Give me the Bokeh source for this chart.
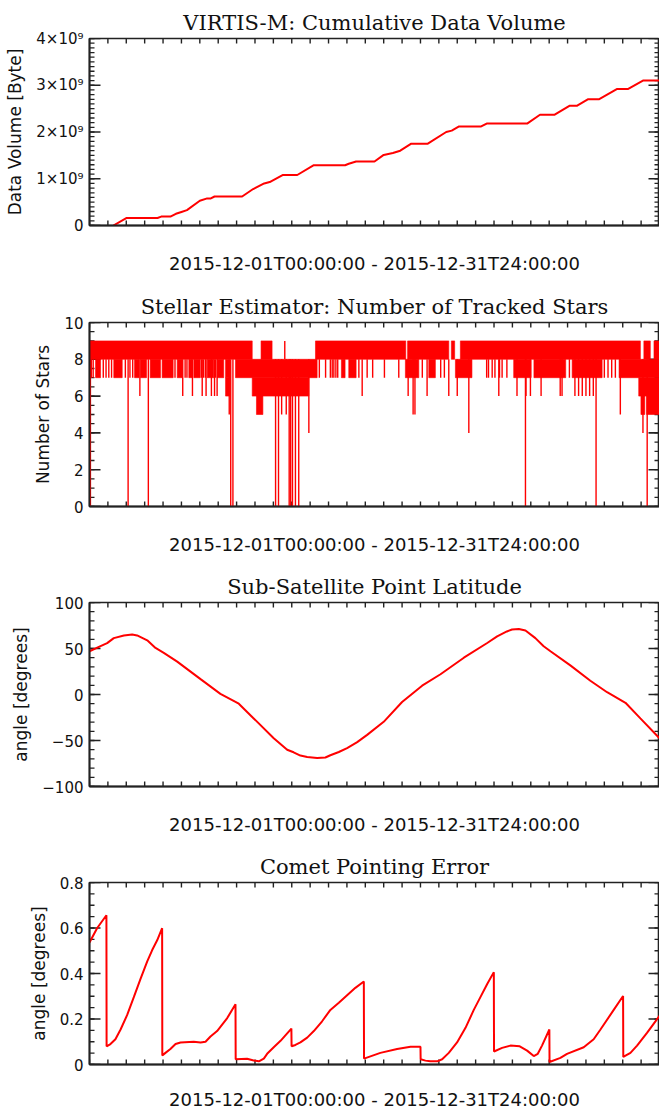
import math
from bokeh.plotting import figure
from bokeh.layouts import column
from bokeh.models import Range1d, FixedTicker, CustomJSTickFormatter, ColumnDataSource
from bokeh.embed import file_html
from bokeh.resources import INLINE

# ---------------- data ----------------
X_LABEL = "2015-12-01T00:00:00 - 2015-12-31T24:00:00"
TITLES = ["VIRTIS-M: Cumulative Data Volume",
          "Stellar Estimator: Number of Tracked Stars",
          "Sub-Satellite Point Latitude",
          "Comet Pointing Error"]
YLABELS = ["Data Volume [Byte]", "Number of Stars", "angle [degrees]", "angle [degrees]"]

# x axis: days since 2015-12-01T00:00, one tick per day
x_ticks = list(range(0, 32))

# y tick values per panel (major, minor step)
y1_major = [0, 1e9, 2e9, 3e9, 4e9]
y2_major = [0, 2, 4, 6, 8, 10]
y3_major = [-100, -50, 0, 50, 100]
y4_major = [0.0, 0.2, 0.4, 0.6, 0.8]
y_minor_step = [1e8, 0.5, 10, 0.05]

# Panel 1: cumulative data volume (units of 1e9 byte)
vol_day = [1.3, 2.0, 3.7, 3.9, 4.4, 4.7, 5.0, 5.3, 6.0, 6.4, 6.6, 6.8, 8.3, 8.9, 9.5, 9.8,
           10.5, 11.3, 12.2, 13.9, 14.1, 14.5, 15.5, 16.0, 16.5, 16.9, 17.5, 18.4, 19.4,
           19.7, 20.1, 21.3, 21.6, 23.8, 24.5, 25.3, 26.1, 26.5, 27.1, 27.7, 28.7, 29.3,
           30.1, 31.0]
vol_gb = [0.0, 0.16, 0.16, 0.19, 0.19, 0.25, 0.29, 0.33, 0.53, 0.58, 0.58, 0.62, 0.62,
          0.78, 0.90, 0.93, 1.08, 1.08, 1.29, 1.29, 1.32, 1.37, 1.37, 1.51, 1.55, 1.60,
          1.75, 1.75, 2.00, 2.03, 2.12, 2.12, 2.18, 2.18, 2.37, 2.37, 2.56, 2.56, 2.70,
          2.70, 2.92, 2.92, 3.10, 3.10]

# Panel 2: tracked stars, drawn as filled bands (start, end, low, high) + single spikes
band_start = [0.0, 9.33, 12.29, 17.3, 19.68, 20.17, 30.15, 30.7,
              0.33, 1.32, 2.45, 2.77, 3.3, 3.95, 4.77, 5.4, 5.67, 6.4, 6.94, 7.4, 7.94,
              13.7, 14.1, 17.18, 18.45, 19.9, 23.07, 24.17, 26.25, 28.8,
              7.4, 8.85, 29.87,
              9.08, 29.99, 30.3]
band_end = [8.85, 9.93, 17.2, 19.54, 19.86, 29.96, 30.5, 31.0,
            0.6, 1.78, 2.7, 3.1, 3.86, 4.55, 5.04, 5.58, 6.03, 6.76, 7.3, 7.62, 12.38,
            13.9, 14.5, 17.91, 18.81, 20.8, 23.98, 25.9, 27.88, 31.0,
            7.62, 11.93, 31.0,
            9.43, 30.2, 31.0]
band_low = [8, 8, 8, 8, 8, 8, 8, 8,
            7, 7, 7, 7, 7, 7, 7, 7, 7, 7, 7, 7, 7, 7, 7, 7, 7, 7, 7, 7, 7, 7,
            6, 6, 6,
            5, 5, 5]
band_high = [9, 9, 9, 9, 9, 9, 9, 9,
             8, 8, 8, 8, 8, 8, 8, 8, 8, 8, 8, 8, 8, 8, 8, 8, 8, 8, 8, 8, 8, 8,
             7, 7, 7,
             6, 6, 6]

spike_day = [0.05, 2.1, 3.2, 7.68, 7.8, 10.12, 10.28, 10.86, 10.94, 11.04, 11.2, 11.38,
             23.71, 27.55, 30.33,
             0.1, 0.2, 0.75, 0.9, 1.05, 1.2, 1.95, 2.2, 2.35, 4.65, 5.2, 5.3, 6.1, 6.2,
             6.3, 6.85, 12.5, 12.84, 13.1, 13.2, 13.29, 13.4, 13.5, 14.65, 15.1, 15.4,
             16.04, 16.82, 18.1, 19.1, 19.3, 21.6, 21.7, 21.9, 22.05, 22.3, 22.44, 22.7,
             24.0, 26.1, 28.0, 28.2, 28.4, 28.6,
             2.74, 5.07, 5.6, 6.13, 6.34, 6.63, 6.8, 6.94, 14.83, 17.33, 18.36, 19.54,
             20.0, 22.26, 23.25, 23.74, 23.98, 24.56, 25.6, 25.7, 26.4, 26.6, 26.8, 27.0,
             27.2, 27.4,
             7.6, 10.45, 10.7, 17.6, 17.7, 28.87,
             11.93, 20.63, 30.1,
             10.62]
spike_low = [0] * 15 + [7] * 44 + [6] * 26 + [5] * 6 + [4] * 3 + [8]
spike_high = [8] * (len(spike_low) - 1) + [9]

# Panel 3: sub-satellite latitude (deg)
lat_day = [0, 0.6, 0.96, 1.32, 1.87, 2.32, 2.59, 3.14, 3.59, 4.04, 4.77, 6.04, 7.12, 8.12,
           8.93, 10.02, 10.75, 11.1, 11.47, 11.84, 12.38, 12.83, 13.1, 13.56, 14.01,
           14.56, 15.1, 16.0, 17.0, 18.09, 19.09, 20.36, 21.63, 22.17, 22.7, 22.98,
           23.35, 23.71, 24.25, 24.7, 25.07, 26.15, 27.24, 28.15, 29.15, 29.96, 31.0]
lat_deg = [47, 52.5, 55.8, 61.3, 64.2, 65.3, 64.2, 58.9, 50.6, 45.3, 35.7, 16.7, 0.7, -10,
           -26, -47.5, -60, -62.8, -66.4, -67.9, -69, -68.5, -66, -62.5, -58.2,
           -51.8, -43.9, -29.7, -8.2, 9.6, 22, 40, 56, 63.2, 68.5, 70.7,
           71.3, 69.6, 61.3, 52.5, 47, 31.7, 15, 2.5, -9, -26, -47.5]

# Panel 4: comet pointing error (deg)
pe_day = [0, 0.42, 0.92, 0.93, 1.14, 1.41, 1.69, 2.05, 2.41, 2.77, 3.14, 3.41, 3.68, 3.95,
          3.96, 4.13, 4.4, 4.68, 4.95, 5.67, 6.04, 6.31, 6.58, 6.94, 7.49, 7.94,
          7.95, 8.57, 8.93, 9.21, 9.48, 9.66, 10.02, 10.39, 10.98,
          10.99, 11.2, 11.47, 11.84, 12.2, 12.65, 13.1, 13.56, 14.01, 14.46, 14.92,
          14.93, 15.82, 16.73, 17.46, 18.0,
          18.01, 18.27, 18.54, 18.91, 19.18, 19.54, 19.99, 20.45, 20.9, 21.26, 21.63, 21.99,
          22.0, 22.44, 22.89, 23.4, 23.8, 24.16, 24.38, 24.61, 25.01,
          25.02, 25.61, 25.97, 26.88, 27.42, 27.79, 28.51, 29.02,
          29.03, 29.42, 29.78, 30.33, 31.0]
pe_deg = [0.536, 0.60, 0.656, 0.08, 0.09, 0.111, 0.154, 0.218, 0.296, 0.375, 0.453, 0.503,
          0.546, 0.599,
          0.04, 0.051, 0.068, 0.09, 0.097, 0.10, 0.097, 0.10, 0.123, 0.147, 0.204, 0.265,
          0.023, 0.025, 0.018, 0.014, 0.026, 0.047, 0.076, 0.104, 0.158,
          0.08, 0.086, 0.097, 0.118, 0.147, 0.19, 0.24, 0.271, 0.304, 0.337, 0.365,
          0.026, 0.051, 0.068, 0.078, 0.078,
          0.023, 0.017, 0.014, 0.014, 0.023, 0.051, 0.097, 0.161, 0.24, 0.296, 0.354, 0.406,
          0.057, 0.073, 0.083, 0.08, 0.061, 0.037, 0.047, 0.083, 0.154,
          0.011, 0.029, 0.047, 0.076, 0.111, 0.154, 0.24, 0.301,
          0.033, 0.051, 0.083, 0.14, 0.214]

# ---------------- styling ----------------
RED = "#ff0000"
INK = "#222222"
TXT = "#111111"
SANS = "DejaVu Sans"
FRAME_H = 187
LEFT = 89
X0, X1 = 0, 31


def make_fig(idx, yr, y_major, minor_step, height, top, xl_standoff, yformatter=None):
    bottom = height - top - FRAME_H
    p = figure(width=659, height=height, x_range=Range1d(X0, X1), y_range=Range1d(*yr),
               output_backend="svg", toolbar_location=None,
               min_border_left=LEFT, min_border_right=0,
               min_border_top=top, min_border_bottom=bottom)
    p.title.text = TITLES[idx]
    p.title.align = "center"
    p.title.text_font = "DejaVu Serif"
    p.title.text_font_size = "21px"
    p.title.text_font_style = "normal"
    p.title.text_color = TXT
    p.title.standoff = 8
    p.xgrid.visible = False
    p.ygrid.visible = False
    p.outline_line_color = INK
    p.outline_line_width = 1.6

    for ax in (p.xaxis[0], p.yaxis[0]):
        ax.axis_line_color = INK
        ax.axis_line_width = 1.8
        ax.major_tick_in = 0
        ax.major_tick_out = 0
        ax.minor_tick_in = 0
        ax.minor_tick_out = 0

    xa = p.xaxis[0]
    xa.ticker = FixedTicker(ticks=x_ticks)
    xa.formatter = CustomJSTickFormatter(code="return '';")
    xa.major_label_text_font_size = "0px"
    xa.major_label_standoff = 0
    xa.axis_label = X_LABEL
    xa.axis_label_text_font = SANS
    xa.axis_label_text_font_size = "18px"
    xa.axis_label_text_font_style = "normal"
    xa.axis_label_text_color = TXT
    xa.axis_label_standoff = xl_standoff

    ya = p.yaxis[0]
    ya.ticker = FixedTicker(ticks=y_major)
    ya.major_label_text_font = SANS
    ya.major_label_text_font_size = "15px"
    ya.major_label_text_color = TXT
    ya.major_label_standoff = 6
    if yformatter is not None:
        ya.formatter = yformatter
    ya.axis_label = YLABELS[idx]
    ya.axis_label_text_font = SANS
    ya.axis_label_text_font_size = "17px"
    ya.axis_label_text_font_style = "normal"
    ya.axis_label_text_color = TXT
    ya.axis_label_standoff = 8

    # inward tick marks on all four sides (drawn as screen-length rays from the frame edges)
    y_lo, y_hi = yr
    n_minor = int(round((y_hi - y_lo) / minor_step))
    y_minor = [y_lo + k * minor_step for k in range(n_minor + 1)]
    tick_kw = dict(line_color=INK, length_units="screen")
    p.ray(x=x_ticks, y=[y_lo] * len(x_ticks), length=5, angle=math.pi / 2,
          line_width=1.4, **tick_kw)
    p.ray(x=x_ticks, y=[y_hi] * len(x_ticks), length=5, angle=-math.pi / 2,
          line_width=1.4, **tick_kw)
    p.ray(x=[X0] * len(y_major), y=y_major, length=11, angle=0, line_width=1.6, **tick_kw)
    p.ray(x=[X1] * len(y_major), y=y_major, length=11, angle=math.pi, line_width=1.6,
          **tick_kw)
    p.ray(x=[X0] * len(y_minor), y=y_minor, length=5, angle=0, line_width=1.3, **tick_kw)
    p.ray(x=[X1] * len(y_minor), y=y_minor, length=5, angle=math.pi, line_width=1.3,
          **tick_kw)
    return p


# Panel 1
p1 = make_fig(0, (0, 4e9), y1_major, y_minor_step[0], 288, 38, 27,
              yformatter=CustomJSTickFormatter(
                  code="return tick == 0 ? '0' : Math.round(tick/1e9) + '\u00d710\u2079';"))
src1 = ColumnDataSource(dict(x=vol_day, y=[v * 1e9 for v in vol_gb]))
p1.line("x", "y", source=src1, line_color=RED, line_width=2)

# Panel 2
p2 = make_fig(1, (0, 10), y2_major, y_minor_step[1], 280, 31, 27)
src2b = ColumnDataSource(dict(l=band_start, r=band_end, b=band_low, t=band_high))
p2.quad(left="l", right="r", bottom="b", top="t", source=src2b,
        fill_color=RED, line_color=RED, line_width=0.6)
src2s = ColumnDataSource(dict(x=spike_day, lo=spike_low, hi=spike_high))
p2.segment(x0="x", y0="lo", x1="x", y1="hi", source=src2s, line_color=RED, line_width=1.4)

# Panel 3
p3 = make_fig(2, (-100, 100), y3_major, y_minor_step[2], 280, 31, 27)
src3 = ColumnDataSource(dict(x=lat_day, y=lat_deg))
p3.line("x", "y", source=src3, line_color=RED, line_width=2)

# Panel 4
p4 = make_fig(3, (0, 0.8), y4_major, y_minor_step[3], 264, 31, 24)
src4 = ColumnDataSource(dict(x=pe_day, y=pe_deg))
p4.line("x", "y", source=src4, line_color=RED, line_width=2)

layout = column(p1, p2, p3, p4, spacing=0)
open("out.html", "w").write(file_html(layout, INLINE))
